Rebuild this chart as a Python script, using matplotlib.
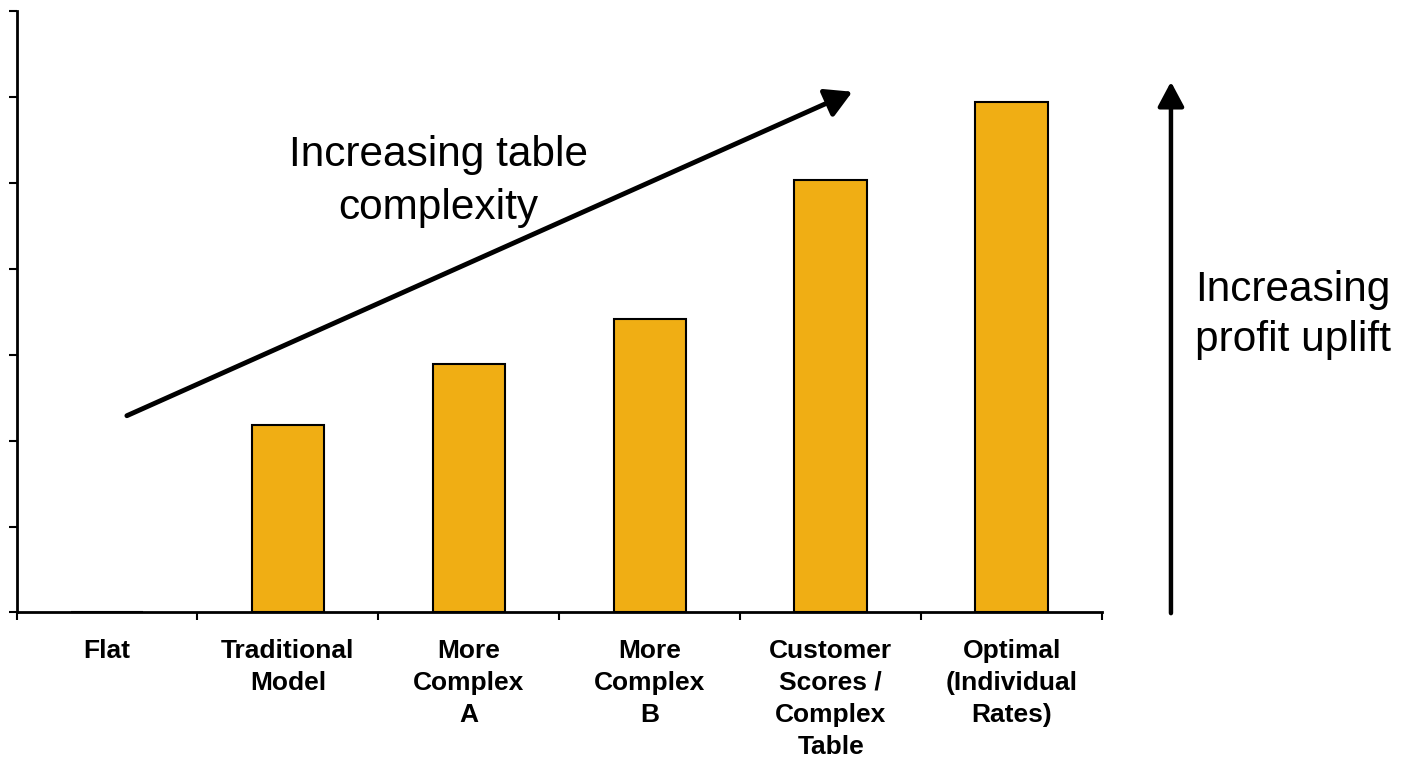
import matplotlib.pyplot as plt
import numpy as np

plt.rcParams['font.family'] = ['Liberation Sans', 'DejaVu Sans']

categories = ['Flat', 'Traditional\nModel', 'More\nComplex\nA', 'More\nComplex\nB',
              'Customer\nScores /\nComplex\nTable', 'Optimal\n(Individual\nRates)']
uplift = [0.0, 2.18, 2.89, 3.42, 5.03, 5.94]

fig = plt.figure(figsize=(14.01, 7.57), dpi=100)
ax = fig.add_axes([0.0118, 0.1909, 0.7748, 0.7946])

x = np.arange(len(categories))
ax.bar(x, uplift, width=0.4, color='#F0AE14', edgecolor='black', linewidth=1.5)

ax.set_xlim(-0.5, 5.5)
ax.set_ylim(0, 7)
ax.set_yticks(np.arange(0, 8))
ax.set_yticklabels([])
ax.tick_params(axis='y', length=6, width=1.5, direction='out')

ax.set_xticks(x)
ax.set_xticklabels(categories, fontsize=19, fontweight='bold', linespacing=1.42, va='top')
ax.tick_params(axis='x', which='major', length=0, pad=19)
ax.set_xticks(np.arange(-0.5, 6.0, 1.0), minor=True)
ax.tick_params(axis='x', which='minor', length=6, width=1.5, direction='out')

for s in ['top', 'right']:
    ax.spines[s].set_visible(False)
for s in ['left', 'bottom']:
    ax.spines[s].set_linewidth(2)

# diagonal arrow
ax.annotate('', xy=(4.12, 6.06), xytext=(0.11, 2.29),
            arrowprops=dict(arrowstyle='-|>,head_length=0.8,head_width=0.45',
                            mutation_scale=20, lw=3.5, color='black',
                            shrinkA=0, shrinkB=0))
ax.text(1.83, 5.01, 'Increasing table\ncomplexity', fontsize=30.5, ha='center', va='center',
        linespacing=1.42)

# vertical arrow
ax.annotate('', xy=(0.8358, 0.892), xytext=(0.8358, 0.190),
            xycoords='figure fraction', textcoords='figure fraction',
            arrowprops=dict(arrowstyle='-|>,head_length=0.75,head_width=0.4',
                            mutation_scale=20, lw=3.2, color='black',
                            shrinkA=0, shrinkB=0),
            annotation_clip=False)
fig.text(0.923, 0.584, 'Increasing\nprofit uplift', fontsize=30.5, ha='center', va='center',
         linespacing=1.33)

fig.savefig('out.png', dpi=100)
